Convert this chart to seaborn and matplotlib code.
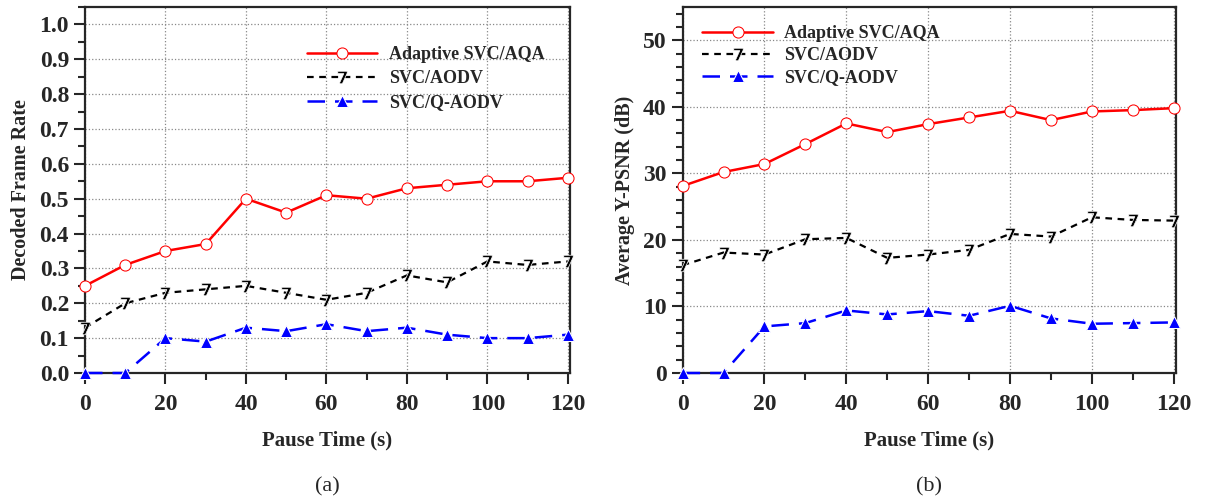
import matplotlib
matplotlib.use('Agg')
import matplotlib.pyplot as plt
from matplotlib.ticker import MultipleLocator
import pandas as pd
import seaborn as sns

# Data
pause_time = [0, 10, 20, 30, 40, 50, 60, 70, 80, 90, 100, 110, 120]

frame_adaptive = [0.25, 0.31, 0.35, 0.37, 0.50, 0.46, 0.51, 0.50, 0.53, 0.54, 0.55, 0.55, 0.56]
frame_aodv = [0.13, 0.20, 0.23, 0.24, 0.25, 0.23, 0.21, 0.23, 0.28, 0.26, 0.32, 0.31, 0.32]
frame_qaodv = [0.0, 0.0, 0.10, 0.09, 0.13, 0.12, 0.14, 0.12, 0.13, 0.11, 0.10, 0.10, 0.11]

psnr_adaptive = [28.1, 30.2, 31.4, 34.4, 37.5, 36.2, 37.4, 38.4, 39.4, 38.0, 39.3, 39.5, 39.8]
psnr_aodv = [16.2, 18.1, 17.8, 20.1, 20.3, 17.3, 17.8, 18.5, 20.9, 20.5, 23.4, 23.0, 22.9]
psnr_qaodv = [0.0, 0.0, 7.0, 7.5, 9.4, 8.8, 9.3, 8.6, 10.1, 8.2, 7.4, 7.5, 7.6]

labels = ['Adaptive SVC/AQA', 'SVC/AODV', 'SVC/Q-AODV']

sns.set_style('ticks')
plt.rcParams['font.family'] = ['Liberation Serif', 'DejaVu Serif']
plt.rcParams['font.weight'] = 'bold'

# line look for each series
styles = {
    'Adaptive SVC/AQA': dict(color='red', linestyle='-', marker='o', markersize=8,
                             markerfacecolor='white', markeredgecolor='red', linewidth=1.8),
    'SVC/AODV': dict(color='black', linestyle=(0, (3, 2.5)), marker='$7$', markersize=9,
                     markeredgewidth=0.5, linewidth=1.6),
    'SVC/Q-AODV': dict(color='blue', linestyle=(0, (7, 4)), marker='^', markersize=9,
                       linewidth=1.8),
}


def draw_panel(ax, series, ylim, ymajor, yminor, ylabel, yfmt, tag, legend_anchor, spacing):
    df = pd.DataFrame({'time': pause_time})
    for name, vals in zip(labels, series):
        df[name] = vals
    for name in labels:
        sns.lineplot(data=df, x='time', y=name, ax=ax, label=name, clip_on=False,
                     zorder=3, **styles[name])
    ax.set_xlim(0, 120.5)
    ax.set_ylim(*ylim)
    ax.xaxis.set_major_locator(MultipleLocator(20))
    ax.xaxis.set_minor_locator(MultipleLocator(10))
    ax.yaxis.set_major_locator(MultipleLocator(ymajor))
    ax.yaxis.set_minor_locator(MultipleLocator(yminor))
    ax.yaxis.set_major_formatter(yfmt)
    ax.grid(True, which='major', linestyle=':', color='#888888', linewidth=0.9)
    ax.tick_params(which='major', length=8, width=1.5, labelsize=17, direction='out')
    ax.tick_params(axis='x', which='major', pad=7)
    ax.tick_params(which='minor', length=5, width=1.5, direction='out')
    for s in ax.spines.values():
        s.set_linewidth(1.6)
    ax.set_xlabel('Pause Time (s)', fontsize=15, fontweight='bold', labelpad=11)
    ax.set_ylabel(ylabel, fontsize=14.5, fontweight='bold', labelpad=6)
    ax.legend(loc='upper left', bbox_to_anchor=legend_anchor, frameon=False,
              handlelength=3.9, handletextpad=0.65, labelspacing=spacing,
              borderpad=0, borderaxespad=0, prop={'weight': 'bold', 'size': 13})
    ax.text(0.5, -0.31, tag, transform=ax.transAxes, ha='center', va='center',
            fontsize=16, fontweight='normal')


fig = plt.figure(figsize=(12.06, 4.98), dpi=100)
ax1 = fig.add_axes([0.0705, 0.251, 0.402, 0.735])
ax2 = fig.add_axes([0.566, 0.251, 0.409, 0.735])

draw_panel(ax1, [frame_adaptive, frame_aodv, frame_qaodv], (0, 1.05), 0.1, 0.05,
           'Decoded Frame Rate', '{x:.1f}', '(a)', (0.458, 0.893), 0.38)
draw_panel(ax2, [psnr_adaptive, psnr_aodv, psnr_qaodv], (0, 55), 10, 2,
           'Average Y-PSNR (dB)', '{x:.0f}', '(b)', (0.04, 0.95), 0.28)

fig.savefig('out.png', dpi=100)
